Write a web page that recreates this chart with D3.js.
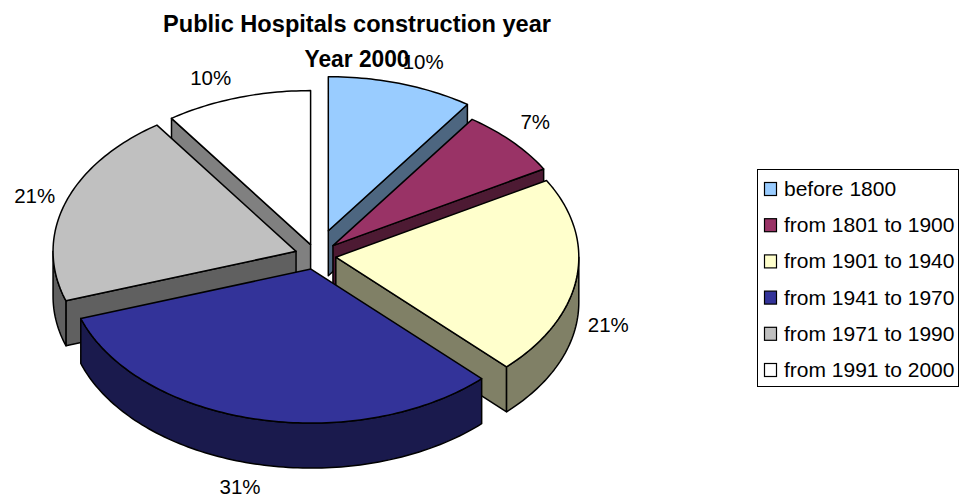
<!DOCTYPE html>
<html><head><meta charset="utf-8">
<style>html,body{margin:0;padding:0;background:#fff}svg{display:block}text{font-family:"Liberation Sans",Arial,sans-serif;fill:#000}</style>
<script src="https://cdnjs.cloudflare.com/ajax/libs/d3/7.8.5/d3.min.js"></script>
</head><body><svg id="c" width="959" height="499"></svg>
<script>
// ---- data ----
const titleLines = ["Public Hospitals construction year", "Year 2000"];
const categories = ["before 1800","from 1801 to 1900","from 1901 to 1940","from 1941 to 1970","from 1971 to 1990","from 1991 to 2000"];
const printedPercent = [10, 7, 21, 31, 21, 10];
// slice shares as drawn (the printed labels are rounded and the 3D view skews them slightly)
const drawnShare = [9.7, 7.0, 20.9, 32.2, 20.5, 9.7];
const colors = ["#99CCFF","#993366","#FFFFCC","#333399","#C0C0C0","#FFFFFF"];
const explosion = [41, 23, 20, 22, 21, 18];

// ---- layout ----
const W = 959, H = 499;
const cx = 316, cy = 255.5, rx = 243, ry = 154, depth = 45, squash = 0.634;
const labelNudge = [[13,-3],[1,-6],[2,-1],[-8,4],[-2,-1],[-18,-1]];
const titleWidths = [388, 105];

const svg = d3.select("#c");
const pie = d3.pie().sort(null).value(d => d).startAngle(0).endAngle(2 * Math.PI);
const arcs = pie(drawnShare);
const line = d3.line().x(d => d[0]).y(d => d[1]);

const slices = arcs.map((a, i) => {
  const mid = (a.startAngle + a.endAngle) / 2;
  return {i, a0: a.startAngle, a1: a.endAngle, mid,
    ax: cx + explosion[i] * Math.sin(mid),
    ay: cy - explosion[i] * squash * Math.cos(mid)};
});
const rimPoint = (s, t, dz = 0) => [s.ax + rx * Math.sin(t), s.ay - ry * Math.cos(t) + dz];
const sample = (t0, t1) => {
  const n = Math.max(2, Math.ceil((t1 - t0) / 0.02));
  return d3.range(n + 1).map(k => t0 + (t1 - t0) * k / n);
};
const shade = c => { const r = d3.rgb(c); return d3.rgb(r.r * .5, r.g * .5, r.b * .5).formatHex(); };
const stroke = {stroke: "#000", "stroke-width": 1.5, "stroke-linejoin": "round"};
const draw = (g, pts, fill) => {
  const p = g.append("path").attr("d", line(pts) + "Z").attr("fill", fill);
  Object.entries(stroke).forEach(([k, v]) => p.attr(k, v));
};

const order = slices.slice().sort((p, q) => Math.cos(q.mid) - Math.cos(p.mid));
const gPie = svg.append("g");
order.forEach(s => {
  const g = gPie.append("g");
  const dark = shade(colors[s.i]);
  const apex = [s.ax, s.ay], apexLow = [s.ax, s.ay + depth];
  // radial cut faces turned towards the viewer
  if (s.a1 < Math.PI) draw(g, [apex, rimPoint(s, s.a1), rimPoint(s, s.a1, depth), apexLow], dark);
  if (s.a0 > Math.PI) draw(g, [apex, rimPoint(s, s.a0), rimPoint(s, s.a0, depth), apexLow], dark);
  // outer wall on the near half of the ellipse
  const t0 = Math.max(s.a0, Math.PI / 2), t1 = Math.min(s.a1, 1.5 * Math.PI);
  if (t1 > t0) {
    const ts = sample(t0, t1);
    draw(g, ts.map(t => rimPoint(s, t)).concat(ts.slice().reverse().map(t => rimPoint(s, t, depth))), dark);
  }
  // top face
  draw(g, [apex].concat(sample(s.a0, s.a1).map(t => rimPoint(s, t))), colors[s.i]);
});

// value labels
const gLab = svg.append("g");
slices.forEach(s => {
  const lift = Math.cos(s.mid) < 0 ? depth : 0;
  gLab.append("text")
    .attr("x", s.ax + (rx + 30) * Math.sin(s.mid) + labelNudge[s.i][0])
    .attr("y", s.ay - (ry + 20) * Math.cos(s.mid) + lift + labelNudge[s.i][1] + 7)
    .attr("text-anchor", "middle").attr("font-size", 20.5)
    .text(printedPercent[s.i] + "%");
});

// title
titleLines.forEach((t, i) => svg.append("text")
  .attr("x", 357).attr("y", 32 + i * 35)
  .attr("text-anchor", "middle").attr("font-size", 23).attr("font-weight", "bold")
  .attr("textLength", titleWidths[i]).attr("lengthAdjust", "spacingAndGlyphs").text(t));

// legend
const legendY = d3.scalePoint().domain(categories).range([189, 370]);
svg.append("rect").attr("x", 757.5).attr("y", 169.5).attr("width", 201).attr("height", 217)
  .attr("fill", "#fff").attr("stroke", "#000").attr("stroke-width", 1);
const item = svg.append("g").selectAll("g").data(categories).join("g");
item.append("rect").attr("x", 764.5).attr("y", d => legendY(d) - 6.5).attr("width", 12).attr("height", 13)
  .attr("fill", (d, i) => colors[i]).attr("stroke", "#000").attr("stroke-width", 1.2);
item.append("text").attr("x", 784).attr("y", d => legendY(d) + 7).attr("font-size", 21).text(d => d);
</script></body></html>
